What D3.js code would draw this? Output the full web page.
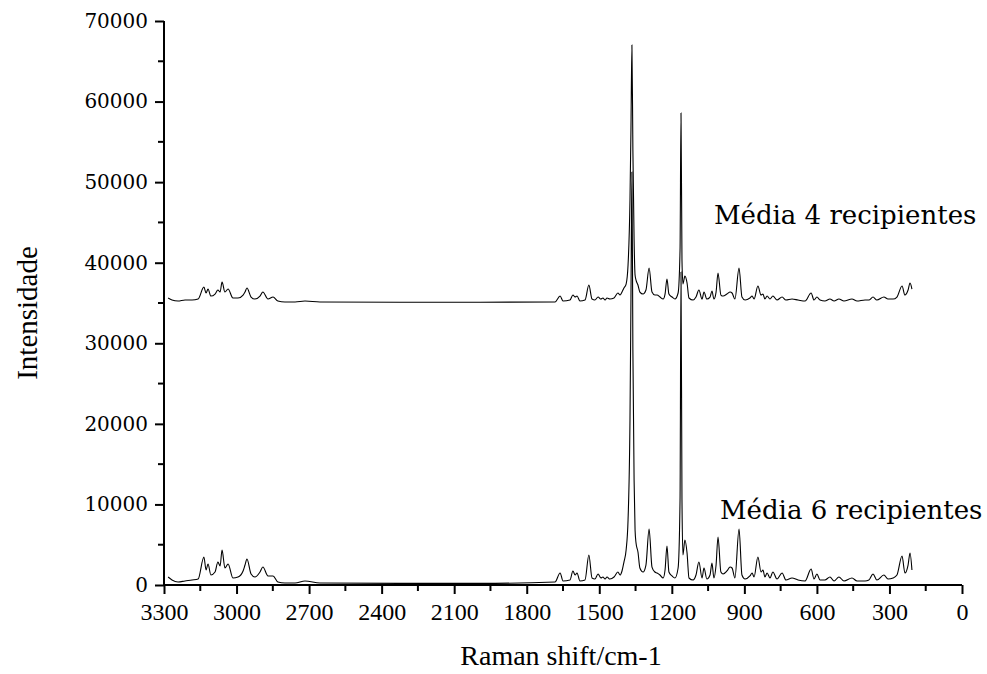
<!DOCTYPE html>
<html>
<head>
<meta charset="utf-8">
<script src="https://cdn.jsdelivr.net/npm/d3@7"></script>
<style>
  body { margin: 0; background: #fff; }
  text { fill: #000; }
</style>
</head>
<body>
<div id="chart"></div>
<script>
// Raman shift (cm-1) and the two averaged spectra
var shift = [3283, 3267, 3242, 3213, 3184, 3159, 3135, 3126, 3118, 3106, 3089, 3077, 3068, 3060, 3048, 3035,
  3015, 2994, 2973, 2965, 2957, 2940, 2924, 2903, 2891, 2870, 2849, 2829, 2800, 2758, 2717, 2655, 2324, 1993,
  1683, 1662, 1650, 1621, 1609, 1600, 1592, 1580, 1559, 1543, 1530, 1518, 1505, 1493, 1485, 1476, 1468, 1456,
  1439, 1423, 1414, 1406, 1398, 1389, 1381, 1373, 1369, 1365, 1361, 1356, 1352, 1348, 1340, 1332, 1319, 1307,
  1294, 1282, 1270, 1261, 1249, 1236, 1228, 1220, 1212, 1199, 1187, 1174, 1166, 1162, 1158, 1154, 1146, 1137,
  1129, 1112, 1100, 1088, 1075, 1067, 1055, 1042, 1034, 1026, 1017, 1009, 997, 988, 972, 959, 951, 939, 922,
  910, 897, 877, 868, 860, 844, 831, 823, 815, 806, 794, 782, 765, 744, 728, 703, 678, 649, 624, 612, 600,
  587, 567, 546, 529, 509, 488, 455, 434, 401, 385, 368, 352, 323, 306, 285, 269, 248, 236, 223, 215, 207]

var media6 = [990, 620, 370, 500, 620, 740, 3470, 1860, 2610, 1240, 1610, 2850, 2360, 4340, 2110, 2610,
  870, 990, 1740, 2480, 3230, 1370, 990, 1610, 2230, 1120, 1120, 370, 250, 250, 500, 250, 200, 200,
  370, 1490, 500, 620, 1740, 1240, 1490, 500, 620, 3720, 870, 740, 1370, 870, 990, 740, 990, 740,
  990, 1610, 1240, 1740, 2850, 4340, 8070, 20480, 35370, 51250, 29160, 13030, 6830, 5210, 4100, 2110, 1610, 2480,
  6950, 2230, 1610, 1490, 1240, 870, 1860, 4840, 1610, 1120, 870, 2110, 10550, 38840, 10550, 3720, 5580, 3970,
  870, 620, 1240, 2850, 870, 2110, 740, 1240, 2730, 870, 2480, 5960, 1610, 1370, 1740, 2230, 2110, 870, 6950,
  1240, 740, 1120, 1490, 990, 3470, 1610, 1860, 990, 1490, 870, 1610, 740, 1490, 620, 870, 620, 500, 1990, 740, 1370,
  620, 620, 990, 500, 990, 500, 870, 500, 500, 620, 1370, 620, 1240, 740, 870, 1240, 3600, 1490, 2480, 3970, 1860]

var media4 = [35620, 35370, 35240, 35370, 35370, 35490, 36980, 36240, 36730, 35860, 36110, 36610, 36360, 37600, 36360, 36730,
  35620, 35620, 35990, 36360, 36860, 35740, 35490, 35860, 36360, 35490, 35740, 35240, 35120, 35120, 35240, 35120, 35100, 35100,
  35120, 35860, 35240, 35370, 35990, 35740, 35860, 35240, 35370, 37230, 35490, 35370, 35740, 35490, 35620, 35370, 35620, 35490,
  35620, 36240, 35990, 36360, 36860, 37350, 39710, 47780, 56470, 67010, 53980, 42810, 38470, 37850, 37230, 36360, 36110, 36610,
  39340, 36360, 35990, 35990, 35740, 35490, 36110, 37970, 36110, 35740, 35490, 36240, 41570, 58580, 40330, 37350, 38350, 37480,
  35620, 35370, 35740, 36610, 35490, 36360, 35490, 35740, 36490, 35490, 36360, 38720, 35990, 35860, 36110, 36360, 36240, 35490, 39340,
  35740, 35370, 35620, 35860, 35490, 37110, 35990, 36110, 35490, 35860, 35490, 35860, 35370, 35740, 35370, 35490, 35370, 35240, 36240, 35370, 35740,
  35370, 35240, 35490, 35240, 35490, 35240, 35490, 35240, 35370, 35370, 35740, 35370, 35740, 35490, 35490, 35740, 37110, 35990, 36610, 37480, 36730]

var xTicks = [3300, 3000, 2700, 2400, 2100, 1800, 1500, 1200, 900, 600, 300, 0]
var xMinor = [3150, 2850, 2550, 2250, 1950, 1650, 1350, 1050, 750, 450, 150]
var yTicks = [0, 10000, 20000, 30000, 40000, 50000, 60000, 70000]
var yMinor = [5000, 15000, 25000, 35000, 45000, 55000, 65000]
var labels = [
  { text: "Média 4 recipientes", x: 1026, y: 44800 },
  { text: "Média 6 recipientes", x: 1001, y: 8200 }
]

var serif = "'Liberation Serif', 'DejaVu Serif', serif"
var wide = "'DejaVu Serif', serif"

var W = 987, H = 674
var margin = { left: 164, right: 25, top: 21, bottom: 89 }
var width = W - margin.left - margin.right
var height = H - margin.top - margin.bottom

var svg = d3.select("#chart").append("svg").attr("width", W).attr("height", H)
var g = svg.append("g").attr("transform", "translate(" + margin.left + "," + margin.top + ")")

var xs = d3.scaleLinear().domain([3300, 0]).range([0, width])
var ys = d3.scaleLinear().domain([0, 70000]).range([height, 0])

var line = d3.line().x(function (d, i) { return xs(shift[i]) }).y(function (d) { return ys(d) }).curve(d3.curveMonotoneX)

g.append("path").datum(media4).attr("d", line)
  .attr("fill", "none").attr("stroke", "#000").attr("stroke-width", 1.1)
g.append("path").datum(media6).attr("d", line)
  .attr("fill", "none").attr("stroke", "#000").attr("stroke-width", 1.1)

// ---- axes ----
var xAxis = g.append("g").attr("transform", "translate(0," + height + ")")
  .call(d3.axisBottom(xs).tickValues(xTicks).tickSize(9).tickPadding(9).tickFormat(d3.format("d")))
xAxis.append("g").selectAll("line").data(xMinor).enter().append("line")
  .attr("x1", function (d) { return xs(d) }).attr("x2", function (d) { return xs(d) })
  .attr("y1", 0).attr("y2", 6).attr("stroke", "#000").attr("stroke-width", 2)

var yAxis = g.append("g")
  .call(d3.axisLeft(ys).tickValues(yTicks).tickSize(9).tickPadding(7).tickFormat(d3.format("d")))
yAxis.append("g").selectAll("line").data(yMinor).enter().append("line")
  .attr("y1", function (d) { return ys(d) }).attr("y2", function (d) { return ys(d) })
  .attr("x1", 0).attr("x2", -6).attr("stroke", "#000").attr("stroke-width", 2)

xAxis.select(".domain").attr("d", "M0,0H" + width).attr("stroke-width", 2)
yAxis.select(".domain").attr("d", "M0,0V" + height).attr("stroke-width", 2)
svg.selectAll(".tick line").attr("stroke-width", 2)
xAxis.selectAll(".tick text").style("font-family", serif).style("font-size", "24px")
yAxis.selectAll(".tick text").style("font-family", wide).style("font-size", "20px")

// ---- titles ----
svg.append("text")
  .attr("x", margin.left + width / 2 - 2).attr("y", 665)
  .attr("text-anchor", "middle").style("font-family", serif).style("font-size", "28px")
  .text("Raman shift/cm-1")

svg.append("text")
  .attr("transform", "translate(37," + (margin.top + height / 2 + 10) + ") rotate(-90)")
  .attr("text-anchor", "middle").style("font-family", serif).style("font-size", "29px")
  .text("Intensidade")

g.selectAll(".lbl").data(labels).enter().append("text")
  .attr("class", "lbl")
  .attr("x", function (d) { return xs(d.x) })
  .attr("y", function (d) { return ys(d.y) })
  .style("font-family", wide).style("font-size", "26px")
  .text(function (d) { return d.text })
</script>
</body>
</html>
